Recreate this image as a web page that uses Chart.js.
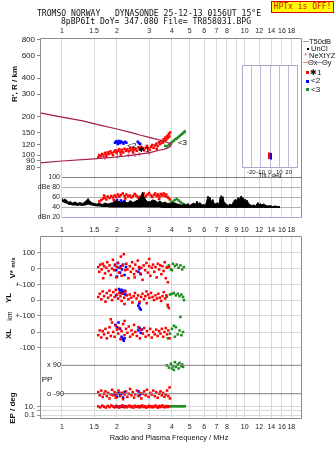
<!DOCTYPE html>
<html>
<head>
<meta charset="utf-8">
<title>Dynasonde ionogram</title>
<script src="https://cdn.jsdelivr.net/npm/chart.js@4.4.1/dist/chart.umd.min.js"></script>
<style>
  html, body { margin: 0; padding: 0; background: #fff; }
  #page { position: relative; width: 335px; height: 451px; overflow: hidden;
          font-family: "Liberation Sans", Arial, sans-serif; color: #111; }
  #page canvas { position: absolute; left: 0; top: 0; }
  .t { position: absolute; white-space: pre; line-height: 1; }
  .c { transform: translate(-50%, -50%); }
  .m { transform: translateY(-50%); }
  .r { transform: translate(-50%, -50%) rotate(-90deg); }
  .mono { font-family: "DejaVu Sans Mono", "Liberation Mono", monospace; }
  .sq { position: absolute; width: 3px; height: 3px; }
  .ln { position: absolute; height: 1px; }
</style>
</head>
<body>
<div id="page">
  <canvas id="heightChart" width="335" height="451"></canvas>
  <canvas id="ampChart" width="335" height="451"></canvas>
  <canvas id="tiltChart" width="335" height="451"></canvas>
  <canvas id="paramChart" width="335" height="451"></canvas>

  <div class="t c mono" style="left:149px;top:12.5px;font-size:8.1px">TROMSO NORWAY   DYNASONDE 25-12-13 0156UT 15°E</div>
  <div class="t c mono" style="left:156px;top:20.5px;font-size:8.1px">8pBP6It DoY= 347.080 File= TR858031.BPG</div>
  <div class="t mono" style="left:271px;top:1px;width:63px;height:12px;box-sizing:border-box;background:#ffff00;border:1px solid #e00000;color:#e00000;font-size:8px;line-height:10px;text-align:center">HPTx is OFF!</div>

  <!-- legend -->
  <div class="ln" style="left:303px;top:41px;width:6px;background:#a0a0a0"></div>
  <div class="t m" style="left:309px;top:41.5px;font-size:7.5px">T50dB</div>
  <div class="sq" style="left:307px;top:48px;width:1.5px;height:1.5px;background:#000"></div>
  <div class="t m" style="left:311px;top:49px;font-size:7.5px">UnCl</div>
  <div class="t m" style="left:303px;top:55px;font-size:8px;color:#e8609c">+</div>
  <div class="t m" style="left:309px;top:55.5px;font-size:7.5px">NeXtYZ</div>
  <div class="ln" style="left:303px;top:62px;width:5px;background:#f08888"></div>
  <div class="t m" style="left:308px;top:62.5px;font-size:7.5px">Θx</div>
  <div class="ln" style="left:317px;top:62px;width:5px;background:#8888f0"></div>
  <div class="t m" style="left:322px;top:62.5px;font-size:7.5px">Θy</div>
  <div class="sq" style="left:306px;top:71px;background:#ff0000"></div>
  <div class="t m" style="left:310px;top:72.5px;font-size:8px">✱1</div>
  <div class="sq" style="left:306px;top:79.5px;background:#0000ff"></div>
  <div class="t m" style="left:311px;top:81px;font-size:8px">&lt;2</div>
  <div class="sq" style="left:306px;top:88px;background:#1e8c1e"></div>
  <div class="t m" style="left:311px;top:89.5px;font-size:8px">&lt;3</div>

  <!-- axis titles -->
  <div class="t r" style="left:15px;top:84px;font-size:8px;font-weight:bold">R', R / km</div>
  <div class="t c" style="left:270px;top:174.5px;font-size:6px">Tilt / deg</div>
  <div class="t r" style="left:13px;top:268px;font-size:8px;font-weight:bold">V* <span style="font-size:6px">m/s</span></div>
  <div class="t r" style="left:8.5px;top:298px;font-size:8px;font-weight:bold">YL</div>
  <div class="t r" style="left:8.5px;top:315.5px;font-size:7px">km</div>
  <div class="t r" style="left:8.5px;top:334px;font-size:8px;font-weight:bold">XL</div>
  <div class="t c" style="left:47px;top:379.5px;font-size:8px">PP</div>
  <div class="t r" style="left:13px;top:408px;font-size:8px;font-weight:bold">EP / deg</div>
  <div class="t c" style="left:169px;top:438px;font-size:7.4px">Radio and Plasma Frequency / MHz</div>
</div>

<script>
// ---- axes ----
const FMIN = 0.758;
const FMAX = 20.6;
const freqGrid = [1, 1.5, 2, 3, 4, 5, 6, 7, 8, 9, 10, 12, 14, 16, 18];
const freqLabelsOuter = ['1', '1.5', '2', '3', '4', '5', '6', '7', '8', '', '10', '12', '14', '16', '18'];
const freqLabelsMid = ['1', '1.5', '2', '3', '4', '5', '6', '7', '8', '9', '10', '12', '14', '16', '18'];
const heightTicks = [800, 600, 400, 300, 200, 150, 120, 100, 90, 80];
const dbTicks = [100, 80, 60, 40, 20];
const dbLabels = ['100', 'dBe 80', '60', '40', 'dBn 20'];
const tiltTicks = [-20, -10, 0, 10, 20];
const vStarTicks = [100, 0, -100];
const vStarLabels = ['100', '0', '+-100'];
const ylTicks = [0, -100];
const ylLabels = ['0', '+-100'];
const xlTicks = [0, -100];
const xlLabels = ['0', '-100'];
const ppTicks = [90, -90];
const ppLabels = ['x 90', 'o -90'];
const epTicks = [10, 1, 0.1];
const epLabels = ['10.', '', '0.1'];

// ---- height panel (MHz, km) ----
const modelTrace = [[0.758, 214], [1, 198], [1.3, 185], [1.57, 173], [2, 160], [2.4, 150], [2.67, 143.6],
  [3, 137.5], [3.23, 134], [3.5, 130], [3.75, 126], [3.9, 123.5], [3.96, 121], [3.93, 117.5], [3.82, 114],
  [3.62, 111], [3.44, 109.6], [3.03, 104.7], [2.5, 100.5], [2, 96.6], [1.5, 93.5], [1, 89.9], [0.758, 87.1]];
const redHeight = [[1.58, 96], [1.60, 100], [1.63, 98], [1.66, 102], [1.69, 99], [1.72, 104], [1.75, 101],
  [1.78, 105], [1.81, 102], [1.84, 107], [1.87, 104], [1.90, 100], [1.93, 106], [1.96, 109], [1.99, 104],
  [2.02, 108], [2.06, 111], [2.09, 106], [2.13, 110], [2.16, 105], [2.20, 112], [2.24, 108], [2.28, 111],
  [2.32, 107], [2.36, 113], [2.40, 109], [2.44, 114], [2.48, 110], [2.53, 112], [2.57, 108], [2.62, 115],
  [2.67, 111], [2.72, 116], [2.77, 112], [2.82, 109], [2.87, 114], [2.92, 118], [2.97, 113], [3.02, 110],
  [3.07, 116], [3.12, 120], [3.17, 114], [3.23, 119], [3.29, 123], [3.34, 118], [3.40, 126], [3.45, 122],
  [3.50, 129], [3.55, 125], [3.60, 133], [3.64, 128], [3.68, 137], [3.72, 132], [3.76, 141], [3.80, 136],
  [3.84, 146], [3.87, 140], [3.90, 150], [1.75, 97], [2.10, 101], [2.45, 105], [3.30, 112]];
const blueHeight = [[1.95, 125], [1.98, 128], [2.01, 126], [2.04, 129], [2.07, 124], [2.10, 128], [2.13, 126],
  [2.17, 123], [2.21, 127], [2.25, 125], [2.02, 122], [2.60, 127], [2.64, 124], [2.68, 122]];
const greenHeight = [[3.68, 118], [3.76, 117], [3.85, 120], [3.95, 124], [4.02, 127], [4.10, 130], [4.18, 133],
  [4.25, 135], [4.33, 138], [4.40, 141], [4.48, 144], [4.56, 147], [4.64, 150], [4.70, 153]];
const nextyz = [[1.72, 95.3], [2.01, 97.5], [2.31, 99.8], [2.51, 100.5], [2.65, 101.6], [2.99, 103.9]];
const echoTags = [['<2', 2.28, 119], ['✱1', 2.61, 111], ['<3', 4.31, 124]];

// ---- tilt inset (deg, km) ----
const redTilt = [[-1, 95], [-1, 97], [-1, 99], [-1, 101], [-1, 103]];
const blueTilt = [[1, 94], [1, 96], [1, 98], [1, 100], [1, 102]];

// ---- amplitude panel: noise band [MHz, low dB, high dB] and echo amplitudes (MHz, dB) ----
const noiseBand = [[1.00, 52, 58], [1.02, 51, 55], [1.04, 50, 57], [1.07, 48, 53], [1.09, 46, 50], [1.11, 46, 52],
  [1.14, 45, 49], [1.18, 45, 51], [1.22, 44, 48], [1.25, 45, 50], [1.30, 44, 48], [1.34, 45, 52], [1.37, 46, 55],
  [1.39, 47, 58], [1.41, 46, 54], [1.45, 45, 50], [1.50, 44, 48], [1.55, 43, 47], [1.61, 43, 48], [1.66, 42, 46],
  [1.72, 42, 49], [1.78, 42, 47], [1.83, 41, 48], [1.90, 41, 50], [2.00, 41, 53], [2.10, 41, 50], [2.21, 41, 51],
  [2.30, 41, 49], [2.36, 41, 54], [2.45, 41, 50], [2.51, 41, 52], [2.60, 41, 55], [2.67, 41, 59], [2.72, 41, 63],
  [2.76, 41, 71], [2.80, 41, 62], [2.85, 41, 57], [2.93, 41, 52], [3.03, 41, 51], [3.12, 41, 55], [3.23, 41, 54],
  [3.33, 41, 50], [3.44, 41, 53], [3.55, 40, 49], [3.66, 40, 51], [3.78, 40, 48], [3.90, 40, 47], [4.02, 40, 50],
  [4.15, 40, 49], [4.28, 40, 47], [4.42, 40, 46], [4.53, 40, 44], [4.65, 40, 47], [4.77, 40, 45], [4.90, 40, 48],
  [5.00, 40, 44], [5.15, 40, 47], [5.28, 40, 49], [5.38, 40, 46], [5.48, 40, 53], [5.58, 40, 47], [5.69, 40, 50],
  [5.85, 40, 45], [5.98, 40, 46], [6.10, 40, 44], [6.22, 40, 55], [6.30, 40, 63], [6.38, 40, 57], [6.45, 40, 61],
  [6.55, 40, 52], [6.70, 40, 56], [6.80, 40, 48], [6.97, 40, 47], [7.10, 40, 50], [7.25, 40, 46], [7.33, 40, 60],
  [7.42, 40, 64], [7.50, 40, 58], [7.60, 40, 62], [7.70, 40, 52], [7.85, 40, 48], [7.98, 40, 46], [8.15, 40, 44],
  [8.30, 40, 47], [8.50, 40, 45], [8.70, 40, 52], [8.85, 40, 56], [9.05, 40, 54], [9.20, 40, 60], [9.35, 40, 55],
  [9.45, 40, 61], [9.58, 40, 63], [9.67, 40, 58], [9.80, 40, 60], [9.95, 40, 54], [10.05, 40, 57], [10.20, 40, 52],
  [10.30, 40, 55], [10.50, 40, 48], [10.70, 40, 46], [10.90, 40, 44], [11.20, 40, 45], [11.50, 40, 43],
  [11.80, 40, 50], [12.00, 40, 46], [12.20, 40, 48], [12.40, 40, 45], [12.70, 40, 47], [13.10, 40, 44],
  [13.50, 40, 43], [13.80, 40, 44], [14.20, 40, 42], [14.70, 40, 43], [15.10, 40, 42], [15.60, 40, 42]];
const redAmp = [[1.60, 52], [1.64, 55], [1.68, 58], [1.72, 60], [1.75, 56], [1.78, 62], [1.82, 59], [1.86, 63],
  [1.90, 60], [1.94, 64], [1.98, 61], [2.02, 66], [2.06, 62], [2.10, 65], [2.15, 68], [2.20, 63], [2.25, 66],
  [2.30, 62], [2.35, 64], [2.40, 60], [2.45, 63], [2.50, 67], [2.55, 64], [2.60, 61], [2.65, 58], [2.70, 62],
  [2.76, 65], [2.82, 60], [2.88, 63], [2.94, 66], [3.00, 69], [3.06, 64], [3.12, 61], [3.18, 65], [3.24, 68],
  [3.30, 63], [3.36, 66], [3.42, 62], [3.48, 67], [3.54, 64], [3.60, 68], [3.66, 63], [3.72, 66], [3.78, 61],
  [3.84, 59], [3.90, 56], [2.22, 58], [1.92, 55], [3.40, 57], [2.80, 68], [1.70, 64]];
const blueAmp = [[1.95, 52], [2.00, 55], [2.05, 50], [2.10, 54], [2.15, 51], [2.20, 53], [2.62, 60], [2.66, 58], [2.70, 61]];
const greenAmp = [[3.70, 43], [3.85, 47], [3.95, 50], [4.05, 52], [4.15, 55], [4.25, 57], [4.35, 54], [4.45, 51],
  [4.55, 48], [4.65, 46]];

// ---- parameter panel: V* (m/s) ----
const redVStar = [[1.58, 10], [1.60, -20], [1.62, 25], [1.65, -5], [1.67, 30], [1.70, 15], [1.72, -30], [1.75, 5],
  [1.77, 40], [1.80, -15], [1.82, 20], [1.85, -40], [1.88, 0], [1.90, 55], [1.93, -10], [1.95, 25], [1.98, -55],
  [2.00, 10], [2.03, 35], [2.05, -25], [2.08, 5], [2.12, -45], [2.15, 20], [2.18, 90], [2.22, -10], [2.25, 30],
  [2.28, -5], [2.31, -60], [2.35, 15], [2.38, -20], [2.42, 40], [2.45, 0], [2.48, -35], [2.52, 25], [2.56, -15],
  [2.60, 50], [2.64, 10], [2.68, -30], [2.72, 5], [2.76, -70], [2.80, 20], [2.85, -10], [2.90, 35], [2.95, -25],
  [3.00, 15], [3.05, -45], [3.10, 5], [3.15, 25], [3.20, -20], [3.25, 10], [3.30, -55], [3.35, 30], [3.40, -5],
  [3.45, 20], [3.50, -35], [3.55, 15], [3.60, -15], [3.65, 40], [3.70, -60], [3.75, 5], [3.80, -85], [3.85, 10],
  [1.68, -60], [2.10, 75], [2.50, -55], [3.00, 60]];
const blueVStar = [[1.95, 20], [1.98, -10], [2.02, 35], [2.05, 5], [2.08, -25], [2.10, 15], [2.13, -5], [2.16, 25],
  [2.20, -40], [2.24, 10], [2.62, -20], [2.66, 0], [2.70, -35], [2.00, -50]];
const greenVStar = [[3.75, 10], [3.85, 20], [3.95, -5], [4.05, 30], [4.15, 15], [4.25, 25], [4.35, 5], [4.45, 20],
  [4.55, -5], [4.65, 10], [4.00, -10]];

// ---- YL (km) ----
const redYL = [[1.58, 20], [1.61, 40], [1.64, 5], [1.67, 55], [1.70, 25], [1.73, -10], [1.76, 45], [1.79, 15],
  [1.82, 60], [1.85, 30], [1.88, 0], [1.91, 50], [1.94, 20], [1.97, 65], [2.00, 35], [2.03, 10], [2.06, 45],
  [2.09, 25], [2.12, -5], [2.15, 40], [2.19, 15], [2.23, 55], [2.27, 30], [2.31, 5], [2.35, 35], [2.39, 15],
  [2.43, -15], [2.47, 25], [2.51, 45], [2.56, 10], [2.61, 30], [2.66, -10], [2.71, 20], [2.76, 40], [2.81, 5],
  [2.86, 25], [2.91, -20], [2.96, 35], [3.01, 15], [3.07, 45], [3.13, 20], [3.19, 0], [3.25, 30], [3.31, 10],
  [3.37, 40], [3.43, 15], [3.49, -5], [3.55, 25], [3.61, 50], [3.67, 10], [3.73, 30], [3.79, -30], [3.85, -50],
  [2.20, -25], [2.90, 55]];
const blueYL = [[2.05, 70], [2.08, 60], [2.10, 45], [2.12, 65], [2.15, 50], [2.18, 40], [2.20, 60], [2.23, 35],
  [1.98, 30], [2.62, -35], [2.66, -50], [2.70, -60], [2.65, -20]];
const greenYL = [[3.75, 20], [3.90, 35], [4.00, 40], [4.10, 45], [4.20, 30], [4.30, 40], [4.40, 25], [4.50, 35],
  [4.60, 20], [4.65, 0], [3.80, -40]];

// ---- XL (km) ----
const redXL = [[1.58, -20], [1.61, 10], [1.64, -35], [1.67, 5], [1.70, -15], [1.73, 20], [1.76, -40], [1.79, -5],
  [1.82, 30], [1.85, -25], [1.88, 60], [1.91, 0], [1.94, -30], [1.97, 40], [2.00, 15], [2.03, -10], [2.06, 25],
  [2.09, -45], [2.12, 5], [2.16, 50], [2.20, -20], [2.24, 20], [2.28, -5], [2.32, 35], [2.36, -30], [2.40, 10],
  [2.44, -15], [2.48, 45], [2.52, 0], [2.57, -25], [2.62, 30], [2.67, -40], [2.72, 15], [2.77, -10], [2.82, 25],
  [2.87, -30], [2.92, 5], [2.98, -20], [3.04, 20], [3.10, -35], [3.16, 0], [3.22, -15], [3.28, 15], [3.34, -25],
  [3.40, 5], [3.46, -10], [3.52, 20], [3.58, -30], [3.64, 0], [3.70, 25], [3.76, -15], [3.82, 10], [3.88, -40],
  [1.85, 80], [2.20, 70]];
const blueXL = [[1.96, 45], [2.00, 30], [2.04, 60], [2.08, 20], [2.12, -30], [2.15, -45], [2.18, -55], [2.20, -40],
  [2.62, 10], [2.66, 25], [2.70, -5], [2.74, 15]];
const greenXL = [[3.80, -40], [3.90, -10], [4.00, 20], [4.10, 40], [4.20, 30], [4.30, -15], [4.40, 10], [4.50, -20],
  [4.60, 0], [4.45, 95], [4.15, -30]];

// ---- PP (deg) ----
const redPP = [[1.58, -80], [1.61, -100], [1.64, -70], [1.67, -110], [1.70, -90], [1.73, -75], [1.76, -105],
  [1.79, -85], [1.82, -120], [1.85, -95], [1.88, -65], [1.91, -100], [1.94, -80], [1.97, -115], [2.00, -90],
  [2.04, -70], [2.08, -105], [2.12, -85], [2.16, -125], [2.20, -95], [2.24, -75], [2.28, -110], [2.32, -90],
  [2.36, -60], [2.40, -100], [2.44, -80], [2.48, -115], [2.52, -95], [2.57, -70], [2.62, -105], [2.67, -85],
  [2.72, -120], [2.77, -90], [2.82, -75], [2.87, -100], [2.92, -65], [2.98, -110], [3.04, -85], [3.10, -95],
  [3.16, -70], [3.22, -105], [3.28, -80], [3.34, -115], [3.40, -90], [3.46, -75], [3.52, -100], [3.58, -85],
  [3.64, -110], [3.70, -95], [3.76, -70], [3.82, -105], [3.88, -50], [3.90, -120]];
const bluePP = [[1.96, -95], [2.00, -110], [2.04, -85], [2.08, -100], [2.12, -90], [2.16, -115], [2.20, -80],
  [2.62, -75], [2.66, -100], [2.70, -90]];
const greenPP = [[3.75, 90], [3.85, 75], [3.95, 100], [4.05, 85], [4.15, 110], [4.20, 80], [4.30, 95], [4.35, 70],
  [4.40, 105], [4.50, 85], [4.55, 95], [4.60, 80], [4.10, 60], [4.00, 70]];

// ---- EP (deg) ----
const redEP = [[1.58, 12], [1.62, 7], [1.66, 18], [1.70, 10], [1.74, 6], [1.78, 15], [1.82, 8], [1.86, 20],
  [1.90, 11], [1.94, 7], [1.98, 16], [2.02, 9], [2.06, 6], [2.10, 13], [2.14, 21], [2.18, 8], [2.22, 14],
  [2.26, 7], [2.30, 11], [2.34, 19], [2.38, 8], [2.42, 12], [2.46, 6], [2.50, 16], [2.55, 9], [2.60, 14],
  [2.65, 7], [2.70, 11], [2.75, 20], [2.80, 8], [2.85, 13], [2.90, 6], [2.95, 10], [3.00, 17], [3.05, 8],
  [3.10, 12], [3.15, 7], [3.20, 11], [3.25, 19], [3.30, 9], [3.35, 6], [3.40, 15], [3.45, 8], [3.50, 12],
  [3.55, 21], [3.60, 10], [3.65, 7], [3.70, 11], [3.75, 14], [3.80, 8], [3.85, 12]];
const blueEP = [[1.96, 10], [2.00, 12], [2.04, 9], [2.08, 11], [2.12, 10], [2.16, 13], [2.20, 9], [2.24, 11],
  [2.62, 10], [2.66, 12], [2.70, 9]];
const greenEP = [[3.72, 13], [3.80, 12], [3.90, 13], [4.00, 12], [4.10, 13], [4.20, 12], [4.30, 13], [4.40, 12],
  [4.50, 13], [4.60, 12], [4.70, 13]];

// ---- drawing ----
const FONT = "'Liberation Sans', Arial, sans-serif";
const RED = '#ff0000';
const BLUE = '#0000ff';
const GREEN = '#1e8c1e';
const GRID = '#d9d9d9';
const FRAME = '#8c8c8c';

// the height axis: R' at the top edge of the panel and pixels per decade
const H_TOP = 822;
const PX_PER_DECADE = 128;
const heightMin = H_TOP / Math.pow(10, (218 - 38) / PX_PER_DECADE);
const tiltHMax = H_TOP / Math.pow(10, (65 - 38) / PX_PER_DECADE);
const tiltHMin = H_TOP / Math.pow(10, (168 - 38) / PX_PER_DECADE);

// lower panel (pixels 236..419) is split into stacked strips, one axis each
const strips = { vs: [236, 288], yl: [288, 308], xl: [308, 356], pp: [356, 400], ep: [400, 419] };
function linBand(strip, v0, p0, pxPerUnit) {
  const [top, bottom] = strip;
  return { min: v0 - (bottom - p0) / pxPerUnit, max: v0 + (p0 - top) / pxPerUnit };
}
function logBand(strip, v0, p0, pxPerDecade) {
  const [top, bottom] = strip;
  const l = Math.log10(v0);
  return { min: Math.pow(10, l - (bottom - p0) / pxPerDecade), max: Math.pow(10, l + (p0 - top) / pxPerDecade) };
}

function fixedTicks(values, labels, size, padding) {
  return {
    afterBuildTicks: (scale) => { scale.ticks = values.map((v) => ({ value: v })); },
    ticks: {
      autoSkip: false, maxRotation: 0, minRotation: 0, padding, color: '#222',
      font: { family: FONT, size }, callback: (v, i) => labels[i],
    },
  };
}

function sized(key, px) {
  return { afterFit: (scale) => { scale[key] = px; } };
}

function freqAxis(position, min, labels, height, padding, showGrid) {
  return {
    type: 'logarithmic', position, min, max: FMAX,
    ...fixedTicks(freqGrid, labels, 7, padding),
    ...sized('height', height),
    grid: showGrid ? { color: GRID, drawTicks: false } : { display: false, drawTicks: false },
    border: { display: false },
  };
}

function bandAxis(strip, range, values, labels, type, mirror, order) {
  const axis = {
    type, position: 'left', stack: 'strips', stackWeight: strip[1] - strip[0], weight: order,
    min: range.min, max: range.max,
    ...fixedTicks(values, labels, 7.5, mirror ? 7 : 2),
    ...sized('width', 40),
    grid: mirror ? { display: false, drawTicks: false } : { color: GRID, tickLength: 3, tickColor: '#999' },
    border: { display: false },
  };
  axis.ticks.mirror = mirror;
  return axis;
}

function dots(pairs, color, yAxisID) {
  return {
    data: pairs.map(([x, y]) => ({ x, y })), yAxisID, showLine: false, clip: false,
    backgroundColor: color, borderColor: color, borderWidth: 0, pointStyle: 'rect', pointRadius: 1.8,
  };
}

function trace(pairs, color, width, yAxisID) {
  return {
    data: pairs.map(([x, y]) => ({ x, y })), yAxisID, showLine: true, fill: false,
    borderColor: color, borderWidth: width, pointRadius: 0, tension: 0,
  };
}

function baseOptions(padding, scales, plugins) {
  return {
    responsive: false, animation: false, events: [],
    layout: { padding },
    plugins: Object.assign({ legend: { display: false }, tooltip: { enabled: false } }, plugins),
    scales,
  };
}

const framePlugin = {
  id: 'frame',
  beforeDraw(chart, args, opts) {
    if (!opts.fill) return;
    const a = chart.chartArea;
    chart.ctx.save();
    chart.ctx.fillStyle = opts.fill;
    chart.ctx.fillRect(a.left, a.top, a.right - a.left, a.bottom - a.top);
    chart.ctx.restore();
  },
  afterDraw(chart, args, opts) {
    if (!opts.sides) return;
    const { ctx, chartArea: a } = chart;
    const l = Math.round(a.left) + 0.5, r = Math.round(a.right) - 0.5;
    const t = Math.round(a.top) + 0.5, b = Math.round(a.bottom) - 0.5;
    ctx.save();
    ctx.strokeStyle = opts.color;
    ctx.lineWidth = 1;
    ctx.beginPath();
    if (opts.sides.includes('l')) { ctx.moveTo(l, t); ctx.lineTo(l, b); }
    if (opts.sides.includes('t')) { ctx.moveTo(l, t); ctx.lineTo(r, t); }
    if (opts.sides.includes('r')) { ctx.moveTo(r, t); ctx.lineTo(r, b); }
    if (opts.sides.includes('b')) { ctx.moveTo(l, b); ctx.lineTo(r, b); }
    ctx.stroke();
    ctx.restore();
  },
};

const tagPlugin = {
  id: 'tags',
  afterDatasetsDraw(chart, args, opts) {
    if (!opts.items) return;
    const { ctx, scales } = chart;
    ctx.save();
    ctx.font = '8px ' + FONT;
    ctx.fillStyle = '#000';
    ctx.textBaseline = 'middle';
    opts.items.forEach(([text, f, h]) => {
      ctx.fillText(text, scales.x.getPixelForValue(f), scales.y.getPixelForValue(h));
    });
    ctx.restore();
  },
};

Chart.register(framePlugin, tagPlugin);

// virtual height panel
new Chart(document.getElementById('heightChart'), {
  type: 'scatter',
  data: {
    datasets: [
      trace(modelTrace, '#a31d45', 1.2, 'y'),
      Object.assign(dots(nextyz, '#e8609c', 'y'), { pointStyle: 'cross', pointRadius: 2.2, borderWidth: 1 }),
      dots(redHeight, RED, 'y'),
      dots(blueHeight, BLUE, 'y'),
      dots(greenHeight, GREEN, 'y'),
    ],
  },
  options: baseOptions({ left: 0, top: 0, right: 33, bottom: 233 }, {
    x: freqAxis('top', FMIN, freqLabelsOuter, 38, 3, true),
    y: {
      type: 'logarithmic', position: 'left', min: heightMin, max: H_TOP,
      ...fixedTicks(heightTicks, heightTicks.map(String), 8, 2),
      ...sized('width', 40),
      grid: { drawOnChartArea: false, tickLength: 3, color: '#888' },
      border: { display: false },
    },
  }, { frame: { sides: 'ltr', color: FRAME }, tags: { items: echoTags } }),
});

// amplitude strip
const dbGridColors = ['#7c7c7c', '#b0b0b0', '#b0b0b0', '#b0b0b0', '#a9a9e6'];
new Chart(document.getElementById('ampChart'), {
  type: 'scatter',
  data: {
    datasets: [
      Object.assign(trace(noiseBand.map(([f, lo, hi]) => [f, hi]), '#000', 1, 'y'),
        { fill: '+1', backgroundColor: '#000' }),
      trace(noiseBand.map(([f, lo]) => [f, lo]), '#000', 1, 'y'),
      dots(redAmp, RED, 'y'),
      dots(blueAmp, BLUE, 'y'),
      dots(greenAmp, GREEN, 'y'),
    ],
  },
  options: baseOptions({ left: 0, top: 177.5, right: 33, bottom: 213.5 }, {
    x: freqAxis('bottom', 1, freqLabelsMid, 20, 8, false),
    y: {
      type: 'linear', position: 'left', min: 20, max: 100,
      ...fixedTicks(dbTicks, dbLabels, 7, 2),
      ...sized('width', 62),
      grid: { color: (c) => dbGridColors[c.index], drawTicks: false },
      border: { display: false },
    },
  }, {}),
});

// tilt inset
new Chart(document.getElementById('tiltChart'), {
  type: 'scatter',
  data: {
    datasets: [
      Object.assign(dots(redTilt, RED, 'y'), { pointRadius: 1.5 }),
      Object.assign(dots(blueTilt, BLUE, 'y'), { pointRadius: 1.5 }),
    ],
  },
  options: baseOptions({ left: 242, top: 65, right: 37, bottom: 275 }, {
    x: {
      type: 'linear', position: 'bottom', min: -30, max: 30,
      ...fixedTicks(tiltTicks, tiltTicks.map(String), 6, 0.5),
      ...sized('height', 8),
      grid: { color: '#bcbcd8', drawTicks: false },
      border: { display: false },
    },
    y: { type: 'logarithmic', display: false, min: tiltHMin, max: tiltHMax },
  }, { frame: { fill: '#ffffff', sides: 'ltrb', color: '#a9a9c9' } }),
});

// V*, YL, XL, PP, EP strips
const ppLines = ppTicks.map((v) => trace([[1, v], [FMAX, v]], '#808080', 1, 'pp'));
new Chart(document.getElementById('paramChart'), {
  type: 'scatter',
  data: {
    datasets: [
      ...ppLines,
      dots(redVStar, RED, 'vs'), dots(blueVStar, BLUE, 'vs'), dots(greenVStar, GREEN, 'vs'),
      dots(redYL, RED, 'yl'), dots(blueYL, BLUE, 'yl'), dots(greenYL, GREEN, 'yl'),
      dots(redXL, RED, 'xl'), dots(blueXL, BLUE, 'xl'), dots(greenXL, GREEN, 'xl'),
      dots(redPP, RED, 'pp'), dots(bluePP, BLUE, 'pp'), dots(greenPP, GREEN, 'pp'),
      dots(redEP, RED, 'ep'), dots(blueEP, BLUE, 'ep'), dots(greenEP, GREEN, 'ep'),
    ],
  },
  options: baseOptions({ left: 0, top: 236, right: 33, bottom: 0 }, {
    x: freqAxis('bottom', FMIN, freqLabelsOuter, 32, 4, true),
    vs: bandAxis(strips.vs, linBand(strips.vs, 0, 268.6, 0.16), vStarTicks, vStarLabels, 'linear', false, 5),
    yl: bandAxis(strips.yl, linBand(strips.yl, 0, 300.1, 0.158), ylTicks, ylLabels, 'linear', false, 4),
    xl: bandAxis(strips.xl, linBand(strips.xl, 0, 332, 0.158), xlTicks, xlLabels, 'linear', false, 3),
    pp: bandAxis(strips.pp, linBand(strips.pp, 90, 365.3, 0.1578), ppTicks, ppLabels, 'linear', true, 2),
    ep: bandAxis(strips.ep, logBand(strips.ep, 10, 406.7, 4.15), epTicks, epLabels, 'logarithmic', false, 1),
  }, { frame: { sides: 'ltrb', color: FRAME } }),
});
</script>
</body>
</html>
